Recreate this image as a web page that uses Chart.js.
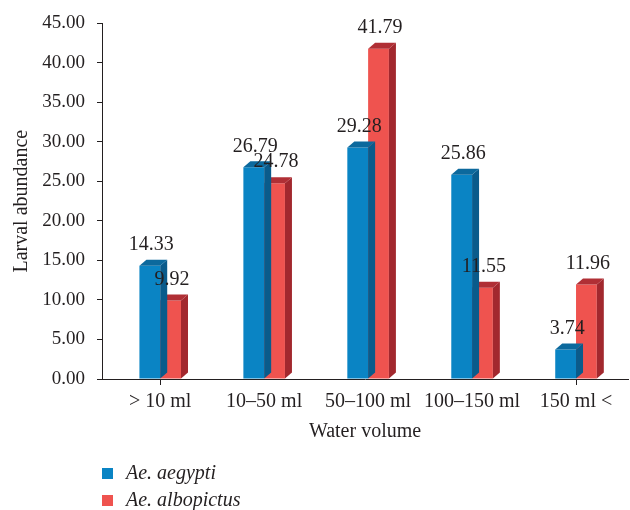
<!DOCTYPE html>
<html>
<head>
<meta charset="utf-8">
<script src="https://cdn.jsdelivr.net/npm/chart.js@4/dist/chart.umd.min.js"></script>
<style>
  html, body { margin: 0; padding: 0; background: #ffffff; }
  #wrap { width: 630px; height: 510px; }
</style>
</head>
<body>
<div id="wrap"><canvas id="chart" width="630" height="510"></canvas></div>
<script>
// Larval abundance by container water volume
const categories = ['> 10 ml', '10–50 ml', '50–100 ml', '100–150 ml', '150 ml <'];
const aegypti = [14.33, 26.79, 29.28, 25.86, 3.74];
const albopictus = [9.92, 24.78, 41.79, 11.55, 11.96];
const seriesNames = ['Ae. aegypti', 'Ae. albopictus'];
const yTicks = { min: 0, max: 45, step: 5 };

const INK = '#231f20';
const SERIF = '"Liberation Serif", "DejaVu Serif", serif';
const DEPTH_X = 7, DEPTH_Y = 6;

// bars on a numeric index axis so the category slots can sit where the frame needs them
const toPoints = vals => vals.map((v, i) => ({ x: i, y: v }));

// extruded side and top faces for each bar, drawn right after its dataset
const depthFaces = {
  id: 'depthFaces',
  afterDatasetDraw(chart, args) {
    const ds = chart.data.datasets[args.index];
    const ctx = chart.ctx;
    ctx.save();
    args.meta.data.forEach(bar => {
      const { x, y, base, width } = bar.getProps(['x', 'y', 'base', 'width'], true);
      const l = x - width / 2, r = x + width / 2;
      ctx.fillStyle = ds.sideColor;
      ctx.beginPath();
      ctx.moveTo(r, y);
      ctx.lineTo(r + DEPTH_X, y - DEPTH_Y);
      ctx.lineTo(r + DEPTH_X, base - DEPTH_Y);
      ctx.lineTo(r, base);
      ctx.closePath();
      ctx.fill();
      ctx.fillStyle = ds.topColor;
      ctx.beginPath();
      ctx.moveTo(l, y);
      ctx.lineTo(l + DEPTH_X, y - DEPTH_Y);
      ctx.lineTo(r + DEPTH_X, y - DEPTH_Y);
      ctx.lineTo(r, y);
      ctx.closePath();
      ctx.fill();
    });
    ctx.restore();
  }
};

// value printed above every bar
const valueLabels = {
  id: 'valueLabels',
  afterDatasetsDraw(chart) {
    const ctx = chart.ctx;
    ctx.save();
    ctx.font = '20px ' + SERIF;
    ctx.fillStyle = INK;
    ctx.textAlign = 'center';
    ctx.textBaseline = 'middle';
    chart.data.datasets.forEach((ds, di) => {
      chart.getDatasetMeta(di).data.forEach((bar, i) => {
        const { x, y } = bar.getProps(['x', 'y'], true);
        ctx.fillText(ds.data[i].y.toFixed(2), x + 1.5, y - 21);
      });
    });
    ctx.restore();
  }
};

// stacked legend in the lower left corner
const stackedLegend = {
  id: 'stackedLegend',
  afterDraw(chart) {
    const ctx = chart.ctx;
    const left = chart.chartArea.left;
    ctx.save();
    ctx.font = 'italic 20px ' + SERIF;
    ctx.textBaseline = 'middle';
    ctx.textAlign = 'left';
    chart.data.datasets.forEach((ds, i) => {
      const cy = 473.5 + i * 27;
      ctx.fillStyle = ds.backgroundColor;
      ctx.fillRect(left, cy - 5.5, 11, 11);
      ctx.fillStyle = INK;
      ctx.fillText(ds.label, left + 24, cy);
    });
    ctx.restore();
  }
};

new Chart(document.getElementById('chart'), {
  type: 'bar',
  data: {
    datasets: [
      {
        label: seriesNames[0],
        data: toPoints(aegypti),
        backgroundColor: '#0a84c4',
        sideColor: '#0a5b8b',
        topColor: '#0c699d'
      },
      {
        label: seriesNames[1],
        data: toPoints(albopictus),
        backgroundColor: '#ef534f',
        sideColor: '#a2282e',
        topColor: '#b02f35'
      }
    ]
  },
  options: {
    responsive: false,
    devicePixelRatio: 1,
    animation: false,
    layout: { padding: { left: 0, top: 19, right: 2, bottom: 62 } },
    datasets: { bar: { barPercentage: 1.0, categoryPercentage: 0.4, borderWidth: 0 } },
    plugins: {
      legend: { display: false },
      tooltip: { enabled: false }
    },
    scales: {
      x: {
        type: 'linear',
        min: -0.56,
        max: 4.5,
        offset: false,
        afterFit(scale) { scale.height = 69; },
        grid: {
          offset: false,
          drawOnChartArea: false,
          tickLength: 6,
          color: c => (c.index === 0 || c.index === categories.length - 1) ? INK : 'rgba(0,0,0,0)'
        },
        border: { display: true, color: INK, width: 1 },
        ticks: {
          stepSize: 1,
          includeBounds: false,
          autoSkip: false,
          maxRotation: 0,
          padding: 5,
          color: INK,
          font: { family: SERIF, size: 20 },
          callback: v => Number.isInteger(v) && categories[v] !== undefined ? categories[v] : ''
        },
        title: {
          display: true,
          text: 'Water volume',
          color: INK,
          font: { family: SERIF, size: 20 },
          padding: { top: 4, bottom: 4 }
        }
      },
      y: {
        min: yTicks.min,
        max: yTicks.max,
        afterFit(scale) { scale.width = 102; },
        grid: { drawOnChartArea: false, tickLength: 5, color: INK },
        border: { display: true, color: INK, width: 1 },
        ticks: {
          stepSize: yTicks.step,
          padding: 12,
          color: INK,
          font: { family: SERIF, size: 19 },
          callback: v => Number(v).toFixed(2)
        },
        title: {
          display: true,
          text: 'Larval abundance',
          color: INK,
          font: { family: SERIF, size: 20 },
          padding: { top: 10, bottom: 0 }
        }
      }
    }
  },
  plugins: [depthFaces, valueLabels, stackedLegend]
});
</script>
</body>
</html>
